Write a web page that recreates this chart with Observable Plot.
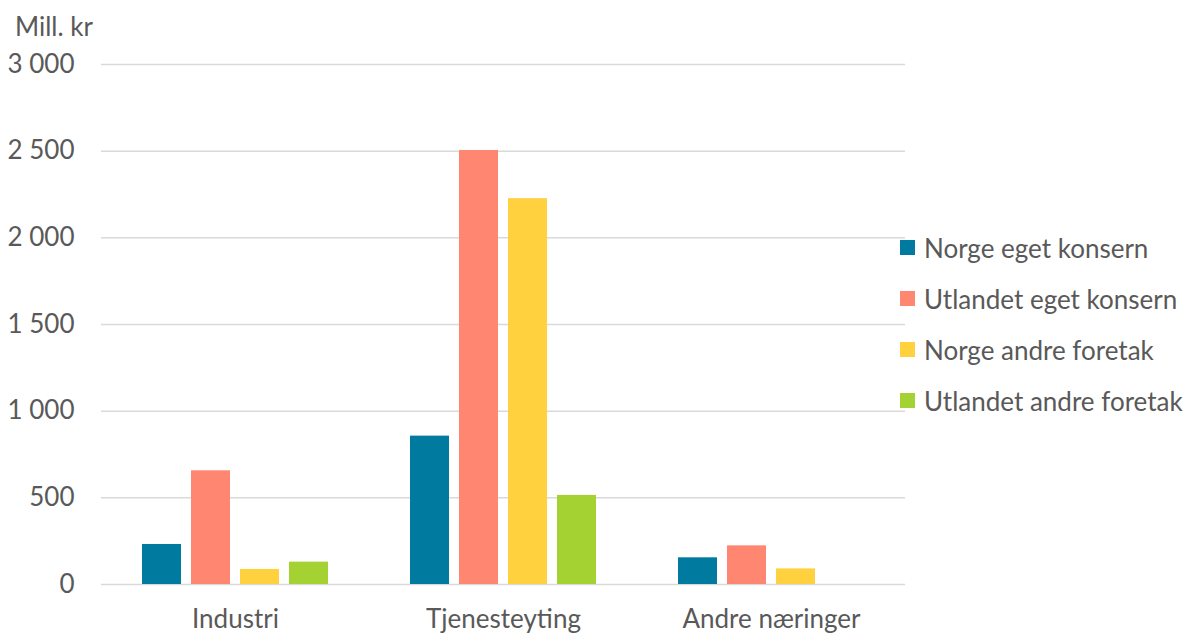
<!DOCTYPE html>
<html>
<head>
<meta charset="utf-8">
<script src="https://cdn.jsdelivr.net/npm/d3@7"></script>
<script src="https://cdn.jsdelivr.net/npm/@observablehq/plot@0.6"></script>
<style>
  html, body { margin: 0; padding: 0; background: #fff; }
  #wrap { position: relative; width: 1194px; height: 635px; overflow: hidden; font-family: "Lato", sans-serif; color: #595959; }
  #ylab { position: absolute; left: 15px; top: 10px; font-size: 26px; }
  #legend { position: absolute; left: 900px; top: 222px; font-size: 26px; }
  .row { display: flex; align-items: center; height: 51px; white-space: nowrap; }
  .sw { width: 15px; height: 15px; margin-right: 9px; flex: none; }
</style>
</head>
<body>
<div id="wrap">
  <div id="chart"></div>
  <div id="ylab">Mill. kr</div>
  <div id="legend"></div>
</div>
<script>
const categories = ["Industri", "Tjenesteyting", "Andre næringer"];
const series = ["Norge eget konsern", "Utlandet eget konsern", "Norge andre foretak", "Utlandet andre foretak"];
const norgeEgetKonsern = [231, 856, 154];
const utlandetEgetKonsern = [656, 2504, 223];
const norgeAndreForetak = [87, 2226, 90];
const utlandetAndreForetak = [129, 514, null];
const colors = ["#007b9f", "#ff8772", "#ffd13f", "#a4d233"];
const yTicks = [0, 500, 1000, 1500, 2000, 2500, 3000];

const seriesValues = [norgeEgetKonsern, utlandetEgetKonsern, norgeAndreForetak, utlandetAndreForetak];
const data = [];
categories.forEach((c, i) => {
  series.forEach((s, j) => {
    const v = seriesValues[j][i];
    if (v != null) data.push({category: c, series: s, value: v});
  });
});

const fmt = d => d3.format(",")(d).replace(/,/g, " ");

const chart = Plot.plot({
  width: 1194,
  height: 635,
  marginTop: 64,
  marginBottom: 51,
  marginLeft: 100,
  marginRight: 288,
  style: {fontFamily: "Lato, sans-serif", fontSize: "26px", color: "#595959", background: "#fff"},
  fx: {domain: categories, padding: 0, label: null, axis: null},
  x: {domain: series, axis: null, paddingInner: 0.21, paddingOuter: 0.83},
  y: {domain: [0, 3000], axis: null},
  color: {domain: series, range: colors},
  marks: [
    Plot.ruleY(yTicks, {stroke: "#d9d9d9", strokeWidth: 1.5}),
    Plot.axisY({ticks: yTicks, tickFormat: fmt, tickSize: 0, tickPadding: 27, label: null, fontSize: 26}),
    Plot.axisFx({anchor: "bottom", tickSize: 0, tickPadding: 25, label: null, fontSize: 26}),
    Plot.barY(data, {fx: "category", x: "series", y: "value", fill: "series"})
  ]
});
document.getElementById("chart").appendChild(chart);

const legend = document.getElementById("legend");
series.forEach((s, i) => {
  const row = document.createElement("div");
  row.className = "row";
  const sw = document.createElement("span");
  sw.className = "sw";
  sw.style.background = colors[i];
  const t = document.createElement("span");
  t.textContent = s;
  row.appendChild(sw);
  row.appendChild(t);
  legend.appendChild(row);
});
</script>
</body>
</html>
